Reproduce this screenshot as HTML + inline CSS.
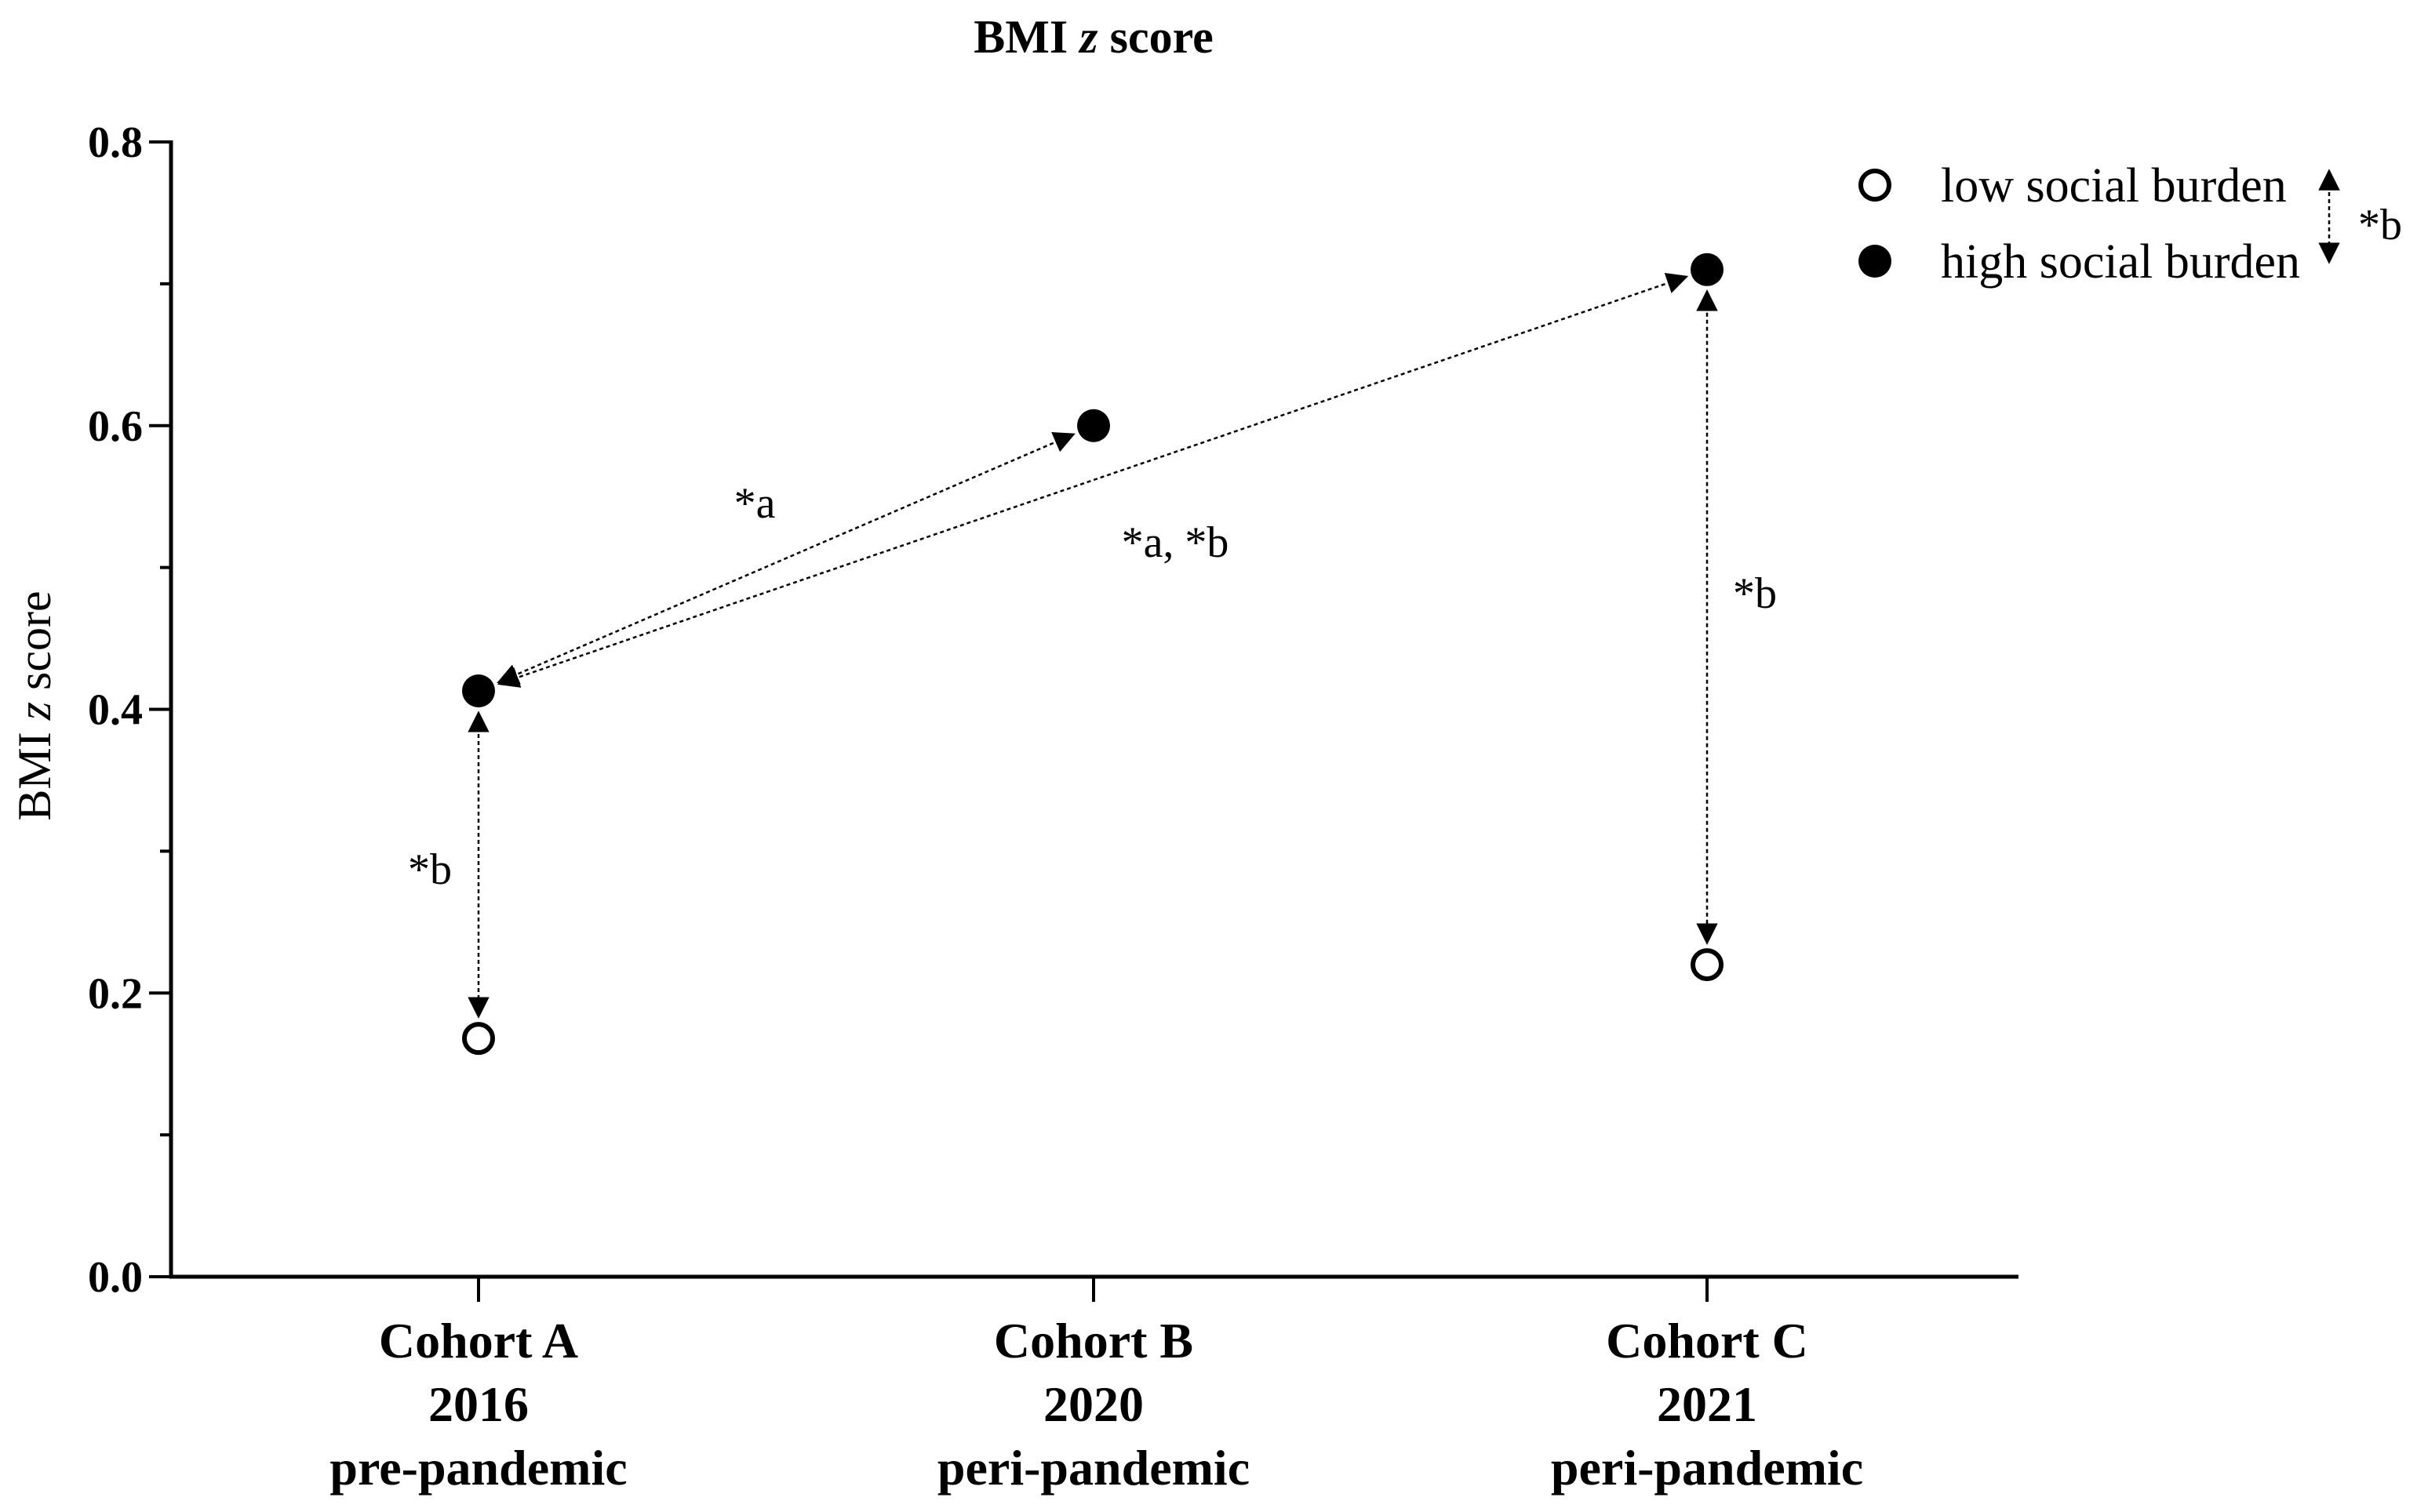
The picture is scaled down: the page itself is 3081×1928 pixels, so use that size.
<!DOCTYPE html>
<html><head><meta charset="utf-8"><style>
html,body{margin:0;padding:0;background:#fff}
svg{display:block}
text{font-family:"Liberation Serif",serif;fill:#000}
</style></head><body>
<svg id="chart" width="3081" height="1928" viewBox="0 0 3081 1928" xmlns="http://www.w3.org/2000/svg">
<defs>
<marker id="ah" viewBox="0 0 10 10" refX="9" refY="5" markerWidth="11" markerHeight="11" markerUnits="strokeWidth" orient="auto-start-reverse"><path d="M0,0 L10,5 L0,10 z" fill="#000"/></marker>
</defs>
<text x="1394" y="67" font-size="60" font-weight="bold" text-anchor="middle">BMI <tspan font-style="italic">z</tspan> score</text>
<text transform="translate(64,900) rotate(-90)" font-size="60" text-anchor="middle">BMI <tspan font-style="italic">z</tspan> score</text>
<g id="axes"></g>
<g id="marks"></g>
</svg>
<script>
const categories = ["Cohort A", "Cohort B", "Cohort C"];
const catLine2 = ["2016", "2020", "2021"];
const catLine3 = ["pre-pandemic", "peri-pandemic", "peri-pandemic"];
const lowBurden = [0.168, null, 0.22];
const highBurden = [0.413, 0.60, 0.71];
const yTicks = [0, 0.1, 0.2, 0.3, 0.4, 0.5, 0.6, 0.7, 0.8];
const yTickLabels = ["0.0", "", "0.2", "", "0.4", "", "0.6", "", "0.8"];

const NS = "http://www.w3.org/2000/svg";
const X0 = 218, X1 = 2573, Y0 = 1628, Y1 = 181;
const catX = [610, 1394, 2176];
function y(v){ return Y0 - (v/0.8)*(Y0-Y1); }
function x(i){ return catX[i]; }
function mk(tag, attrs, parent){ const e=document.createElementNS(NS,tag); for(const k in attrs) e.setAttribute(k,attrs[k]); parent.appendChild(e); return e; }
const axes=document.getElementById('axes'), marks=document.getElementById('marks');

let ya=mk('line',{x1:X0,y1:Y1-2,x2:X0,y2:Y0+2,stroke:'#000','stroke-width':5},axes);


let xa=mk('line',{x1:X0-2,y1:Y0,x2:X1,y2:Y0,stroke:'#000','stroke-width':5},axes);



yTicks.forEach((v,i)=>{
  const major = yTickLabels[i] !== "";
  const t=mk('line',{x1:major?X0-28:X0-14,y1:y(v),x2:X0,y2:y(v),stroke:'#000','stroke-width':4},axes);
  
  
  if(major){
    const l=mk('text',{x:X0-36,y:y(v)+19,'font-size':56,'font-weight':'bold','text-anchor':'end'},axes);
    l.textContent=yTickLabels[i];
    
    
  }
});
categories.forEach((c,i)=>{
  const t=mk('line',{x1:x(i),y1:Y0,x2:x(i),y2:Y0+32,stroke:'#000','stroke-width':4},axes);
  
  
  [c,catLine2[i],catLine3[i]].forEach((s,j)=>{
    const l=mk('text',{x:x(i),y:1731+j*81,'font-size':64,'font-weight':'bold','text-anchor':'middle'},axes);
    l.textContent=s;
    
    
  });
});

function arrow(x1,y1,x2,y2,name){
  const dx=x2-x1, dy=y2-y1, L=Math.hypot(dx,dy), ux=dx/L, uy=dy/L, g=28;
  const a=mk('line',{x1:x1+ux*g,y1:y1+uy*g,x2:x2-ux*g,y2:y2-uy*g,stroke:'#000','stroke-width':2.5,'stroke-dasharray':'5,4','marker-start':'url(#ah)','marker-end':'url(#ah)'},marks);
  
  
}
arrow(x(0),y(highBurden[0]),x(1),y(highBurden[1]),'arrow-a-to-b');
arrow(x(0),y(highBurden[0]),x(2),y(highBurden[2]),'arrow-a-to-c');
arrow(x(0),y(highBurden[0]),x(0),y(lowBurden[0]),'arrow-a-low-high');
arrow(x(2),y(highBurden[2]),x(2),y(lowBurden[2]),'arrow-c-low-high');

highBurden.forEach((v,i)=>{ if(v==null) return;
  const c=mk('circle',{cx:x(i),cy:y(v),r:21,fill:'#000'},marks);
  
  
});
lowBurden.forEach((v,i)=>{ if(v==null) return;
  const c=mk('circle',{cx:x(i),cy:y(v),r:18,fill:'#fff',stroke:'#000','stroke-width':6},marks);
  
  
});

function label(tx,px,py,name,anchor,fs){
  const l=mk('text',{x:px,y:py,'font-size':fs||56,'text-anchor':anchor||'middle'},marks);
  l.textContent=tx;
  
  
}
label('*a',962,660,'annotation-a-b');
label('*a, *b',1498,710,'annotation-a-c');
label('*b',2237,775,'annotation-c');
label('*b',548,1127,'annotation-a');

// legend
const lc=mk('circle',{cx:2390,cy:236,r:18,fill:'#fff',stroke:'#000','stroke-width':6},marks);


const hc=mk('circle',{cx:2390,cy:333,r:21,fill:'#000'},marks);


label('low social burden',2474,257,'legend-low-label','start',62);
label('high social burden',2474,354,'legend-high-label','start',62);
const la=mk('line',{x1:2969,y1:218,x2:2969,y2:334,stroke:'#000','stroke-width':2.5,'stroke-dasharray':'5,4','marker-start':'url(#ah)','marker-end':'url(#ah)'},marks);


label('*b',3006,305,'legend-annotation','start',56);
</script>
</body></html>
